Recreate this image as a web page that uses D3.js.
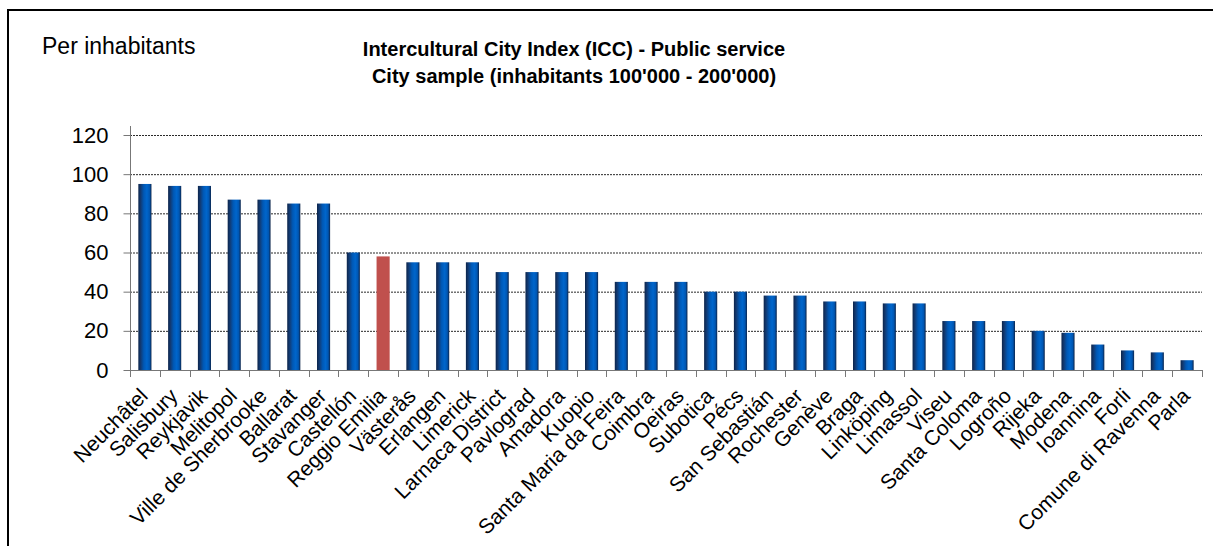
<!DOCTYPE html>
<html><head><meta charset="utf-8">
<script src="https://cdn.jsdelivr.net/npm/d3@7"></script>
<style>
html,body{margin:0;padding:0;background:#fff;overflow:hidden}
text{font-family:Arial,"Liberation Sans",sans-serif;fill:#000}
</style></head>
<body>
<svg id="chart" width="1213" height="546"></svg>
<script>
const cities = ["Neuchâtel","Salisbury","Reykjavik","Melitopol","Ville de Sherbrooke","Ballarat","Stavanger","Castellón","Reggio Emilia","Västerås","Erlangen","Limerick","Larnaca District","Pavlograd","Amadora","Kuopio","Santa Maria da Feira","Coimbra","Oeiras","Subotica","Pécs","San Sebastián","Rochester","Genève","Braga","Linköping","Limassol","Viseu","Santa Coloma","Logroño","Rijeka","Modena","Ioannina","Forli","Comune di Ravenna","Parla"];
const values = [95,94,94,87,87,85,85,60,58,55,55,55,50,50,50,50,45,45,45,40,40,38,38,35,35,34,34,25,25,25,20,19,13,10,9,5];
const highlighted = ["Reggio Emilia"];
const yTicks = [0,20,40,60,80,100,120];
const titleLines = ["Intercultural City Index (ICC) - Public service","City sample (inhabitants 100'000 - 200'000)"];
const yLabel = "Per inhabitants";

(function(){
const svg = d3.select("#chart");
const pLeft = 130, pRight = 1202, pTop = 135, pBottom = 370;

svg.append("rect").attr("x",8).attr("y",10).attr("width",1230).attr("height",560)
  .attr("fill","none").attr("stroke","#000").attr("stroke-width",2);

const defs = svg.append("defs");
const grad = defs.append("linearGradient").attr("id","barGrad").attr("x1","0%").attr("x2","100%").attr("y1","0%").attr("y2","0%");
[[0,"#0c244a"],[0.18,"#123a72"],[0.42,"#0058b5"],[0.65,"#0066cc"],[0.85,"#0056b2"],[1,"#0c244a"]]
  .forEach(([o,c])=>grad.append("stop").attr("offset",o).attr("stop-color",c));

const x = d3.scaleBand().domain(cities).range([pLeft,pRight]).paddingInner(0.56).paddingOuter(0.28);
const y = d3.scaleLinear().domain([0,120]).range([pBottom,pTop]);

svg.append("g").selectAll("line").data(yTicks.filter(d=>d>0)).join("line")
  .attr("x1",pLeft).attr("x2",pRight).attr("y1",d=>y(d)+0.5).attr("y2",d=>y(d)+0.5)
  .attr("stroke","#2a2a2a").attr("stroke-width",1).attr("stroke-dasharray","2,1");

const yAxis = svg.append("g").attr("transform",`translate(${pLeft+0.5},0)`)
  .call(d3.axisLeft(y).tickValues(yTicks).tickSize(7).tickPadding(15).tickFormat(d3.format("d")));
yAxis.select(".domain").remove();
yAxis.selectAll(".tick line").attr("stroke","#777");
yAxis.selectAll(".tick text").attr("font-size","22px").attr("font-family","Arial, 'Liberation Sans', sans-serif").attr("fill","#000");
svg.append("line").attr("x1",pLeft+0.5).attr("x2",pLeft+0.5).attr("y1",126).attr("y2",pBottom)
  .attr("stroke","#777").attr("stroke-width",1);

svg.append("g").selectAll("rect").data(cities).join("rect")
  .attr("x",d=>x(d)).attr("width",x.bandwidth())
  .attr("y",(d,i)=>y(values[i])).attr("height",(d,i)=>y(0)-y(values[i]))
  .attr("fill",d=>highlighted.includes(d)?"#c0504d":"url(#barGrad)");

svg.append("line").attr("x1",pLeft).attr("x2",pRight).attr("y1",pBottom+0.5).attr("y2",pBottom+0.5)
  .attr("stroke","#777").attr("stroke-width",1.2);
const step = x.step();
const bounds = cities.map(c=>x(c)-(step-x.bandwidth())/2).concat([pRight]);
svg.append("g").selectAll("line").data(bounds).join("line")
  .attr("x1",d=>Math.round(d)+0.5).attr("x2",d=>Math.round(d)+0.5).attr("y1",pBottom).attr("y2",pBottom+7)
  .attr("stroke","#777");

svg.append("g").selectAll("text").data(cities).join("text")
  .attr("transform",d=>`translate(${x(d)+x.bandwidth()/2-1},${pBottom+22}) rotate(-45)`)
  .attr("text-anchor","end").attr("dy","0.35em").attr("font-size","21px").text(d=>d);

svg.append("g").selectAll("text").data(titleLines).join("text")
  .attr("x",574).attr("y",(d,i)=>56+i*27).attr("text-anchor","middle")
  .attr("font-size","20px").attr("font-weight","bold").text(d=>d);
svg.append("text").attr("x",42).attr("y",54).attr("font-size","23px").text(yLabel);
})();
</script>
</body></html>
